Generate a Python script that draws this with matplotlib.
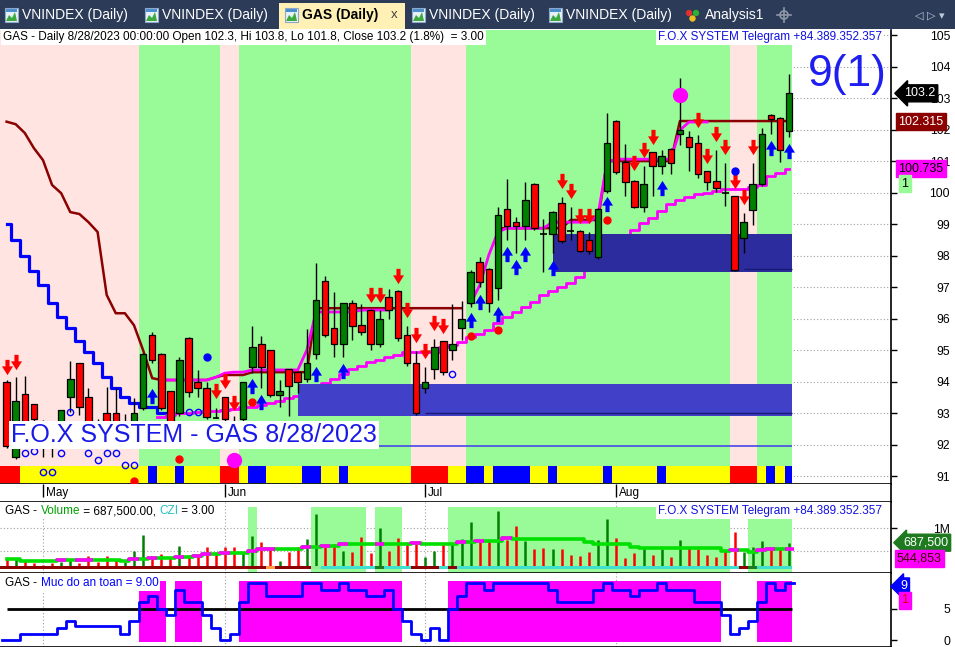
import numpy as np
import matplotlib
matplotlib.use("Agg")
import matplotlib.pyplot as plt
import matplotlib.transforms as mtransforms
from matplotlib.patches import Rectangle, Circle, Polygon

plt.rcParams['font.family'] = ['Liberation Sans', 'DejaVu Sans']
nan = np.nan

# ---------------- data (GAS daily, 25 Apr - 28 Aug 2023) ----------------
opens = [94.0, 91.6, 93.6, 93.29, 92.4, 92.3, 92.5, 93.51, 94.59, 93.51,
         92.6, 93.0, 93.0, 92.6, 92.5, 93.16, 95.48, 94.87, 93.7, 93.0,
         95.38, 93.98, 93.79, 92.84, 93.51, 92.6, 92.8, 94.46, 95.19, 95.0,
         93.57, 94.4, 94.3, 94.08, 94.87, 97.19, 95.7, 95.19, 96.49, 95.79,
         96.27, 95.19, 96.68, 96.87, 95.48, 94.59, 93.79, 94.4, 95.29, 95.0,
         95.7, 96.49, 97.79, 97.57, 96.97, 99.48, 99.06, 98.94, 100.27, 98.68,
         98.68, 99.67, 98.78, 98.78, 98.49, 97.95, 100.05, 102.27, 100.97, 100.37,
         99.54, 101.29, 100.84, 101.38, 101.86, 101.76, 101.57, 100.68, 100.37, 99.98,
         99.89, 98.56, 99.44, 100.27, 102.46, 102.37, 101.95]
highs = [94.05, 94.14, 94.17, 93.3, 92.78, 92.68, 93.1, 94.65, 94.6, 93.79,
         92.8, 93.83, 93.8, 92.97, 93.48, 94.9, 95.57, 94.9, 93.7, 94.78,
         95.4, 94.37, 93.98, 93.16, 93.51, 92.9, 94.0, 95.76, 95.44, 95.0,
         94.05, 94.4, 94.3, 95.67, 97.76, 97.35, 96.84, 96.5, 96.6, 96.46,
         96.3, 96.27, 96.94, 96.9, 95.76, 94.97, 94.46, 95.35, 95.3, 96.46,
         96.56, 97.54, 97.95, 97.6, 99.54, 100.43, 99.22, 100.33, 100.3, 99.16,
         99.4, 99.86, 99.54, 98.8, 98.75, 99.5, 102.52, 102.3, 101.54, 100.4,
         100.84, 101.3, 101.35, 101.4, 103.63, 101.95, 101.83, 100.7, 101.35, 100.94,
         99.9, 99.35, 100.94, 102.05, 102.5, 102.4, 103.75]
lows = [91.9, 91.55, 92.4, 92.5, 91.6, 91.6, 92.3, 93.03, 92.94, 92.4,
        92.2, 92.2, 92.3, 92.3, 92.3, 93.1, 94.6, 93.1, 92.3, 92.9,
        93.51, 93.51, 92.8, 92.84, 92.6, 92.2, 92.6, 94.27, 93.79, 93.5,
        93.19, 92.9, 93.63, 94.0, 94.71, 95.4, 94.78, 94.78, 95.32, 95.48,
        95.0, 95.1, 95.98, 95.3, 94.5, 92.95, 93.63, 94.08, 94.2, 94.68,
        95.32, 96.37, 97.0, 96.21, 96.59, 98.49, 98.08, 98.49, 98.8, 97.48,
        98.08, 98.4, 98.49, 98.1, 98.05, 97.9, 100.0, 100.6, 99.89, 99.5,
        99.38, 99.89, 100.59, 100.59, 101.51, 100.68, 100.46, 100.08, 100.02, 99.57,
        97.5, 98.08, 98.97, 100.2, 101.86, 100.97, 101.76]
closes = [91.95, 93.38, 92.6, 92.81, 92.3, 92.2, 93.1, 94.08, 93.19, 92.6,
          92.4, 92.4, 92.5, 92.7, 93.0, 94.87, 94.68, 93.16, 92.5, 94.68,
          93.67, 93.79, 92.87, 92.84, 92.8, 92.4, 93.98, 95.1, 94.46, 93.57,
          93.7, 93.86, 93.98, 94.59, 96.59, 95.48, 95.19, 96.49, 95.76, 95.57,
          95.19, 95.98, 96.27, 95.38, 94.59, 93.0, 93.98, 95.1, 94.3, 95.19,
          95.98, 97.48, 97.16, 96.49, 99.29, 98.94, 98.94, 99.76, 98.87, 98.68,
          99.38, 98.46, 98.78, 98.14, 98.14, 99.48, 101.57, 100.65, 100.33, 99.54,
          100.27, 100.84, 101.16, 100.94, 101.98, 101.44, 100.59, 100.33, 100.14, 99.98,
          97.54, 99.06, 100.27, 101.86, 102.33, 101.35, 103.15]

stop_line = [102.25, 102.17, 101.89, 101.41, 101.03, 100.24, 99.98, 99.38, 99.32, 99.06,
             98.75, 96.75, 96.17, 96.17, 95.79, 95.0, 94.11, 94.05, 94.05, 94.05,
             94.05, 94.05, 94.05, 94.14, 94.21, 94.21, 94.21, 94.3, 94.3, 94.3,
             94.3, 94.3, 94.3, 94.3, 96.33, 96.33, 96.33, 96.33, 96.33, 96.33,
             96.33, 96.33, 96.33, 96.33, 96.33, 96.33, 96.33, 96.33, 96.33, 96.33,
             96.33, nan, nan, nan, 98.87, 98.87, 98.87, 98.87, 98.87, 98.87,
             98.87, 98.87, 99.13, 99.13, 99.13, 99.13, 101.0, 101.0, 101.0, 101.0,
             101.0, 101.0, 101.0, 101.0, 102.27, 102.27, 102.27, 102.27, 102.27, 102.27,
             102.27, 102.27, 102.27, 102.27, 102.27, 102.27, 102.27]
down_line = [99.0, 98.49, 97.98, 97.51, 97.06, 96.49, 96.05, 95.7, 95.29, 94.94,
             94.59, 94.14, 93.79, 93.51, 93.32, 93.19, 93.19, 93.0] + [nan] * 69
upper_trail = [nan] * 17 + [94.05, 94.05, 94.05, 94.05, 94.05, 94.05, 94.14, 94.27, 94.3, 94.3,
               94.37, 94.37, 94.37, 94.37, 94.37, 94.37, 95.0, 96.21, 96.21, 96.21,
               96.21, 96.21, 96.27, 96.27, 96.27, 96.27, nan, nan, nan, nan,
               nan, nan, nan, nan, 96.49, 97.06, 98.02, 98.75, 98.87, 98.87,
               98.87, 98.87, 98.87, 99.06, 99.06, 99.06, 99.06, 99.06, 99.29, 100.97,
               101.06, 101.06, 101.06, 101.06, 101.06, 101.06, 101.06, 101.98, 102.24, 102.24,
               102.24] + [nan] * 9
lower_trail = [nan] * 17 + [92.87, 92.94, 93.0, 93.0, 93.03, 93.06, 93.06, 93.1, 93.13, 93.19,
               93.19, 93.25, 93.32, 93.38, 93.48, 93.54, 93.73, 93.89, 93.95, 94.08,
               94.24, 94.4, 94.49, 94.62, 94.68, 94.78, 94.84, 94.94, 94.94, 94.94,
               94.94, 95.1, 95.16, 95.25, 95.41, 95.51, 95.63, 95.86, 96.05, 96.21,
               96.37, 96.52, 96.75, 96.87, 97.0, 97.13, 97.32, 97.54, 97.79, 98.05,
               98.3, 98.56, 98.81, 99.03, 99.19, 99.41, 99.63, 99.76, 99.86, 99.95,
               99.98, 100.05, 100.11, 100.11, 100.11, 100.17, 100.24, 100.52, 100.62, 100.75]

# supply / demand zones
zone_start = [32, 60]
zone_lo = [92.9, 97.48]
zone_hi = [93.92, 98.68]
zone_base_start = [46, 81]
zone_base = [93.0, 97.57]
ref_level = 91.96

# signals
sell_idx = [0, 1, 23, 24, 25, 40, 41, 43, 44, 45, 46, 47, 48, 61, 62, 63, 64,
            69, 70, 71, 76, 77, 78, 79, 80, 81, 82]
sell_lvl = [94.46, 94.62, 93.70, 94.02, 93.32, 96.75, 96.75, 97.35, 96.27, 95.48, 94.97,
            95.86, 95.76, 100.37, 100.05, 99.25, 99.25, 100.94, 101.35, 101.76, 102.3,
            101.16, 101.86, 101.44, 100.37, 99.86, 101.44]
buy_idx = [16, 27, 28, 34, 37, 51, 52, 54, 55, 56, 57, 60, 66, 72, 84, 86]
buy_lvl = [93.54, 93.86, 93.35, 94.24, 94.33, 95.95, 96.52, 96.14, 98.05, 97.63, 98.05,
           97.6, 99.63, 100.14, 101.41, 101.32]
red_dot_idx = [14, 19, 27, 51, 54, 66]
red_dot_lvl = [90.84, 91.54, 93.35, 95.44, 95.63, 99.13]
blue_dot_idx = [22, 80]
blue_dot_lvl = [94.78, 100.68]
ring_idx = [2, 3, 4, 5, 6, 7, 9, 10, 11, 12, 13, 14, 20, 21, 49]
ring_lvl = [91.73, 91.8, 91.13, 91.13, 91.73, 93.03, 91.73, 91.51, 91.73, 91.73, 91.35,
            91.35, 93.03, 93.03, 94.24]
big_dot_idx = [25, 74]
big_dot_lvl = [91.51, 103.1]

# background state per bar: P = weak, G = strong
main_zone = "PPPPPPPPPPPPPPPGGGGGGGGGPPGGGGGGGGGGGGGGGGGGGPPPPPPGGGGGGGGGGGGGGGGGGGGGGGGGGGGGPPPGGGG"
strip_code = "RRYYYYYYYYYYYYYYBYYBYYYYRRYBBYYYYBBYYBYYYYYYYRRRRYYBBYBBBBYYBYYYYYBYYYYYBYYYYYYYRRRYBYB"

volume = [334, 334, 298, 240, 204, 240, 276, 312, 255, 399,
          276, 399, 312, 276, 508, 855, 363, 435, 385, 616,
          421, 421, 601, 493, 587, 587, 493, 833, 696, 601,
          298, 493, 601, 775, 1310, 652, 652, 508, 493, 811,
          457, 999, 508, 782, 710, 696, 370, 508, 688, 688,
          761, 1130, 710, 746, 1375, 746, 1050, 725, 551, 565,
          551, 551, 421, 406, 479, 746, 1200, 797, 349, 457,
          565, 421, 551, 385, 746, 601, 551, 421, 385, 508,
          912, 493, 601, 725, 580, 565, 687.5]
volume_ma = [327, 327, 298, 298, 298, 298, 305, 305, 310, 312,
             312, 312, 312, 298, 334, 334, 363, 363, 363, 385,
             385, 406, 435, 435, 471, 471, 471, 508, 544, 551,
             551, 551, 551, 601, 601, 623, 623, 652, 652, 652,
             652, 667, 667, 667, 667, 688, 667, 667, 667, 667,
             710, 710, 732, 732, 732, 782, 761, 761, 761, 761,
             761, 761, 761, 761, 710, 652, 652, 652, 652, 601,
             565, 565, 565, 565, 565, 565, 565, 565, 565, 515,
             530, 530, 493, 530, 540, 540, 545]
vol_zone = "---------------------------G------GGGGGG-GGG-----GGGGGGGGGGGGGGGGGGGGGGGGGGGGGGG--GGGGG"
vol_strip = "dddddddddddddddddddddddddddddoddddlccccccgcccdddcdcccccccccccccccccccccccccccccccdgccccc"

safety = [0, 0, 1, 1, 1, 1, 2, 3, 2.2, 2.2,
          2.2, 2.2, 2.2, 1, 3, 6, 7, 5, 4, 8,
          6, 6, 4, 2, 0, 1, 6, 9, 9, 7,
          7, 7, 7, 9, 9, 8, 8, 9, 8, 8,
          7, 7, 8, 5, 3, 1, 0, 2, 0, 5,
          7, 9, 9, 8, 9, 9, 9, 9, 9, 9,
          8, 6, 6, 6, 6, 8, 9, 8, 8, 7,
          8, 8, 9, 8, 8, 8, 6, 6, 6, 4,
          1, 2, 3, 6, 9, 8, 9]

month_idx = [4, 24, 46, 67]
month_names = ["May", "Jun", "Jul", "Aug"]

# ---------------- layout ----------------
W, H = 955, 647
fig = plt.figure(figsize=(W / 100, H / 100), dpi=100)


def fbox(x0, y0, x1, y1):
    return [x0 / W, 1 - y1 / H, (x1 - x0) / W, (y1 - y0) / H]


ax = fig.add_axes(fbox(0, 30, 891, 484))
ax_m = fig.add_axes(fbox(0, 484, 891, 502))
ax_v = fig.add_axes(fbox(0, 502, 891, 573))
ax_s = fig.add_axes(fbox(0, 573, 891, 647))
tab = fig.add_axes(fbox(0, 0, 955, 29))

n = len(closes)
idx = np.arange(n)
XL = (-0.725, 97.2)
x_end = n - 0.65
PINK, LGREEN = '#FFE4E1', '#98FB98'


def runs(codes):
    out, start = [], 0
    for i in range(1, len(codes) + 1):
        if i == len(codes) or codes[i] != codes[start]:
            out.append((start, i - 1, codes[start]))
            start = i
    return out


def span(a, b):
    return (XL[0] if a == 0 else a - 0.5), min(b + 0.5, x_end)


for a_ in (ax, ax_m, ax_v, ax_s):
    a_.set_xlim(*XL)
    a_.set_xticks([])
    for s in ('left', 'top'):
        a_.spines[s].set_visible(False)
    a_.spines['right'].set_linewidth(1.2)
    a_.spines['bottom'].set_linewidth(1.2)

# ---------------- main price panel ----------------
ax.set_ylim(90.75, 105.16)
for lv in range(91, 106):
    ax.axhline(lv, color='#A0A0A0', lw=0.8, ls=(0, (1, 2)), zorder=0.2)
for a, b, c in runs(main_zone):
    x0, x1 = span(a, b)
    ax.axvspan(x0, x1, color=PINK if c == 'P' else LGREEN, lw=0, zorder=0.5)

ax.plot(idx, stop_line, color='#8B0000', lw=1.8, zorder=2)
ax.plot(idx, down_line, color='#0000FF', lw=2.3, drawstyle='steps-mid', zorder=2)
ax.plot(idx, upper_trail, color='#FF00FF', lw=2.0, zorder=2.2)
ax.plot(idx, lower_trail, color='#FF00FF', lw=2.0, drawstyle='steps-mid', zorder=2.2)

zone_cols = ['#4040C8', '#2C2C9E']
for s0, lo, hi, col in zip(zone_start, zone_lo, zone_hi, zone_cols):
    ax.add_patch(Rectangle((s0, lo), (n - 0.7) - s0, hi - lo, fc=col, ec='none', zorder=3))
for s0, lv in zip(zone_base_start, zone_base):
    ax.hlines(lv, s0, n - 0.7, color='#1A1A70', lw=1.0, zorder=3.5)
ax.hlines(ref_level, 0, n - 0.7, color='#4848E8', lw=1.2, zorder=1.5)

# candles
bw = 0.72
for i in range(n):
    o, h, l, c = opens[i], highs[i], lows[i], closes[i]
    ax.vlines(i, l, h, color='black', lw=1.0, zorder=4)
    if abs(c - o) < 0.02:
        ax.hlines(c, i - bw / 2, i + bw / 2, color='black', lw=1.2, zorder=4.5)
    else:
        ax.add_patch(Rectangle((i - bw / 2, min(o, c)), bw, abs(c - o),
                               fc='#008000' if c > o else '#FF0000', ec='black', lw=0.9, zorder=4.5))

down_arrow = [(-0.27, 1.0), (0.27, 1.0), (0.27, 0.15), (0.72, 0.15), (0.0, -1.0),
              (-0.72, 0.15), (-0.27, 0.15), (-0.27, 1.0)]
up_arrow = [(x, -y) for x, y in down_arrow]
ax.plot(sell_idx, sell_lvl, ls='none', marker=down_arrow, ms=11, mfc='#FF0000', mec='#FF0000', mew=0, zorder=5)
ax.plot(buy_idx, buy_lvl, ls='none', marker=up_arrow, ms=11, mfc='#0000FF', mec='#0000FF', mew=0, zorder=5)
ax.plot(red_dot_idx, red_dot_lvl, ls='none', marker='o', ms=5, color='#FF0000', zorder=6)
ax.plot(blue_dot_idx, blue_dot_lvl, ls='none', marker='o', ms=5, color='#0000FF', zorder=6)
ax.plot(ring_idx, ring_lvl, ls='none', marker='o', ms=4.5, mfc='none', mec='#0000FF', mew=1, zorder=6)
ax.plot(big_dot_idx, big_dot_lvl, ls='none', marker='o', ms=10, color='#FF00FF', zorder=6)

# colour strip at bottom of price panel
blend = mtransforms.blended_transform_factory(ax.transData, ax.transAxes)
strip_cols = {'R': '#FF0000', 'Y': '#FFFF00', 'B': '#0000FF'}
for a, b, c in runs(strip_code):
    x0, x1 = span(a, b)
    ax.add_patch(Rectangle((x0, 0.002), x1 - x0, 0.0376, transform=blend, fc=strip_cols[c], ec='none', zorder=5.5))

# y axis on the right
ax.yaxis.tick_right()
ax.set_yticks(range(91, 106))
ax.tick_params(axis='y', length=4, width=1, labelsize=8.7, pad=38.5)
for t in ax.get_yticklabels():
    t.set_horizontalalignment('right')

ax.text(0.003, 0.9846, "GAS - Daily 8/28/2023 00:00:00 Open 102.3, Hi 103.8, Lo 101.8, Close 103.2 (1.8%)  = 3.00",
        transform=ax.transAxes, fontsize=8.5, va='center', ha='left', zorder=8,
        bbox=dict(fc='white', ec='none', pad=1.5))
ax.text(0.9899, 0.9846, "F.O.X SYSTEM Telegram +84.389.352.357", transform=ax.transAxes, fontsize=8.5,
        color='#1010E0', va='center', ha='right', zorder=8, bbox=dict(fc='white', ec='none', pad=1.5))
ax.text(0.9068, 0.902, "9(1)", transform=ax.transAxes, fontsize=32, color='#1E1EF0', va='center', ha='left', zorder=8)
ax.text(0.0125, 0.108, "F.O.X SYSTEM - GAS 8/28/2023", transform=ax.transAxes, fontsize=18,
        color='#1A1AE8', va='center', ha='left', zorder=8, bbox=dict(fc='white', ec='none', pad=1.5))


def rlabel(a_, y, s, fc, tc, arrow=False, dx=8, dy=0):
    tr = mtransforms.offset_copy(mtransforms.blended_transform_factory(a_.transAxes, a_.transData),
                                 fig=fig, x=dx, y=dy, units='dots')
    style = 'larrow,pad=0.2' if arrow else 'square,pad=0.2'
    a_.text(1.0, y, s, transform=tr, ha='left', va='center', fontsize=9, color=tc, clip_on=False,
            zorder=10, bbox=dict(boxstyle=style, fc=fc, ec=fc))


rlabel(ax, closes[-1], "103.2", 'black', 'white', arrow=True, dx=13)
rlabel(ax, 102.24, "102.315", '#8B0000', 'white', dx=7)
rlabel(ax, lower_trail[-1], "100.735", '#FF00FF', 'black', dx=7)
rlabel(ax, lower_trail[-1], "1", LGREEN, 'black', dx=10, dy=-15)

# ---------------- month row ----------------
ax_m.set_ylim(0, 1)
ax_m.set_yticks([])
ax_m.vlines(month_idx, 0.3, 1, color='black', lw=1)
for mi, nm in zip(month_idx, month_names):
    ax_m.text(mi + 0.35, 0.5, nm, fontsize=8.5, va='center', ha='left')

# ---------------- volume panel ----------------
ax_v.set_ylim(30, 1570)
vol_base = 182
for lv in (500, 1000):
    ax_v.axhline(lv, color='#A0A0A0', lw=0.8, ls=(0, (1, 2)), zorder=0.2)
for mi in month_idx:
    ax_v.axvline(mi, color='#A0A0A0', lw=0.8, ls=(0, (1, 2)), zorder=0.2)
for a, b, c in runs(vol_zone):
    if c == 'G':
        x0, x1 = span(a, b)
        ax_v.axvspan(x0, x1, ymin=0, ymax=0.93, color=LGREEN, lw=0, zorder=0.5)
vol_cols = ['#008000' if c > o else '#FF0000' for o, c in zip(opens, closes)]
ax_v.vlines(idx, vol_base, volume, colors=vol_cols, lw=1.8, zorder=2)
vblend = mtransforms.blended_transform_factory(ax_v.transData, ax_v.transAxes)
vstrip_cols = {'d': '#8B0000', 'c': '#40E0D0', 'o': '#FFA040', 'l': '#90EE90', 'g': '#1E7A1E'}
for a, b, c in runs(vol_strip):
    x0, x1 = span(a, b)
    ax_v.add_patch(Rectangle((x0, 0.063), x1 - x0, 0.036, transform=vblend, fc=vstrip_cols[c], ec='none', zorder=3))
ax_v.plot(idx, volume_ma, color='#00E000', lw=2.6, drawstyle='steps-mid', zorder=3)
for i in range(1, n):
    if volume_ma[i] > volume_ma[i - 1]:
        ax_v.plot([i - 0.5, i - 0.5, i + 0.5], [volume_ma[i - 1], volume_ma[i], volume_ma[i]],
                  color='#FF00FF', lw=2.6, zorder=3.2, solid_capstyle='butt')
ax_v.yaxis.tick_right()
ax_v.set_yticks([1000])
ax_v.set_yticklabels(["1M"])
ax_v.tick_params(axis='y', length=4, width=1, labelsize=8.7, pad=38.5)
for t in ax_v.get_yticklabels():
    t.set_horizontalalignment('right')


def chain(a_, x, y, parts, bg, **kw):
    # white backing box for a multi-coloured title, then the pieces side by side
    a_.add_patch(Rectangle((bg[0], bg[1]), bg[2] - bg[0], bg[3] - bg[1], transform=a_.transAxes,
                           fc='white', ec='none', zorder=7.5))
    t = a_.text(x, y, parts[0][0], color=parts[0][1], transform=a_.transAxes, va='center', ha='left',
                zorder=8, **kw)
    for s, c in parts[1:]:
        t = a_.annotate(s, xy=(1, 0), xycoords=t, va='bottom', ha='left', color=c, zorder=8, **kw)
    return t


chain(ax_v, 0.006, 0.873, [("GAS - ", 'black'), ("Volume", '#00A000'), (" = 687,500.00, ", 'black'),
                           ("CZI", '#20C0C0'), (" = 3.00", 'black')],
      bg=(0.002, 0.76, 0.246, 0.986), fontsize=8.5)
ax_v.text(0.9899, 0.873, "F.O.X SYSTEM Telegram +84.389.352.357", transform=ax_v.transAxes, fontsize=8.5,
          color='#1010E0', va='center', ha='right', zorder=8, bbox=dict(fc='white', ec='none', pad=1.5))
rlabel(ax_v, volume[-1], "687,500", '#1E7A1E', 'white', arrow=True, dx=12)
rlabel(ax_v, volume_ma[-1], "544,853", '#FF00FF', '#400000', dx=6, dy=-9)

# ---------------- safety level panel ----------------
ax_s.set_ylim(-1.06, 10.65)
for mi in month_idx:
    ax_s.axvline(mi, color='#A0A0A0', lw=0.8, ls=(0, (1, 2)), zorder=0.2)
safe_code = ''.join('S' if v >= 5 else '-' for v in safety)
for a, b, c in runs(safe_code):
    if c == 'S':
        x0, x1 = span(a, b)
        ax_s.add_patch(Rectangle((x0, -0.25), x1 - x0, 9.6, fc='#FF00FF', ec='none', zorder=1))
ax_s.hlines(5, 0, n - 0.7, color='black', lw=2, zorder=2)
sx = np.r_[-0.5, idx, n - 0.5]
sy = np.r_[safety[0], safety, safety[-1]]
ax_s.plot(sx, sy, color='#0000FF', lw=2, drawstyle='steps-mid', zorder=3)
ax_s.yaxis.tick_right()
ax_s.set_yticks([0, 5])
ax_s.tick_params(axis='y', length=4, width=1, labelsize=8.7, pad=38.5)
for t in ax_s.get_yticklabels():
    t.set_horizontalalignment('right')
chain(ax_s, 0.006, 0.865, [("GAS - ", 'black'), ("Muc do an toan = 9.00", '#0000FF')],
      bg=(0.002, 0.76, 0.18, 0.975), fontsize=8.5)
rlabel(ax_s, safety[-1], "9", '#0000FF', 'white', arrow=True, dx=9, dy=-3)
rlabel(ax_s, safety[-1], "1", '#FF00FF', '#E00000', dx=10, dy=-17)

# ---------------- tab bar ----------------
tab.set_xlim(0, W)
tab.set_ylim(29, 0)
tab.axis('off')
tab.add_patch(Rectangle((0, 0), W, 29, fc='#2B3B58', ec='none'))
tab.add_patch(Rectangle((279, 3), 126, 26, fc='#FFF1B5', ec='none'))


def icon(x):
    tab.add_patch(Rectangle((x, 8), 13, 14, fc='#E8F0F8', ec='#8FA8C8', lw=0.8))
    tab.add_patch(Polygon([(x + 1, 21), (x + 4, 15), (x + 7, 18), (x + 10, 12), (x + 12, 21)], fc='#3DAA3D', ec='none'))
    tab.add_patch(Rectangle((x + 1, 9), 11, 3, fc='#4A90D0', ec='none'))


tabs = [(5, "VNINDEX (Daily)"), (145, "VNINDEX (Daily)"), (412, "VNINDEX (Daily)"), (549, "VNINDEX (Daily)")]
for x, s in tabs:
    icon(x)
    tab.text(x + 17, 15.5, s, color='white', fontsize=10, va='center', ha='left')
icon(285)
tab.text(302, 15.5, "GAS (Daily)", color='black', fontsize=10, fontweight='bold', va='center', ha='left')
tab.text(391, 15.5, "x", color='#404040', fontsize=9.5, va='center', ha='left')
tab.add_patch(Circle((689, 13), 3.2, fc='#E03030', ec='none'))
tab.add_patch(Circle((696, 13), 3.2, fc='#30B030', ec='none'))
tab.add_patch(Circle((692.5, 18.5), 3.2, fc='#F0C020', ec='none'))
tab.text(705, 15.5, "Analysis1", color='white', fontsize=10, va='center', ha='left')
# new-tab crosshair symbol (drawn as a shape: no installed font has the glyph)
tab.add_patch(Circle((784, 15), 4, fc='none', ec='#9098A8', lw=1.2))
tab.plot([784, 784], [8, 22], color='#9098A8', lw=1.2)
tab.plot([777, 791], [15, 15], color='#9098A8', lw=1.2)
tab.text(930, 15.5, "\u25C1 \u25B7 \u25BE", color='#C0C8D8', fontsize=8, va='center', ha='center', family='DejaVu Sans')

fig.savefig("out.png", dpi=100)
